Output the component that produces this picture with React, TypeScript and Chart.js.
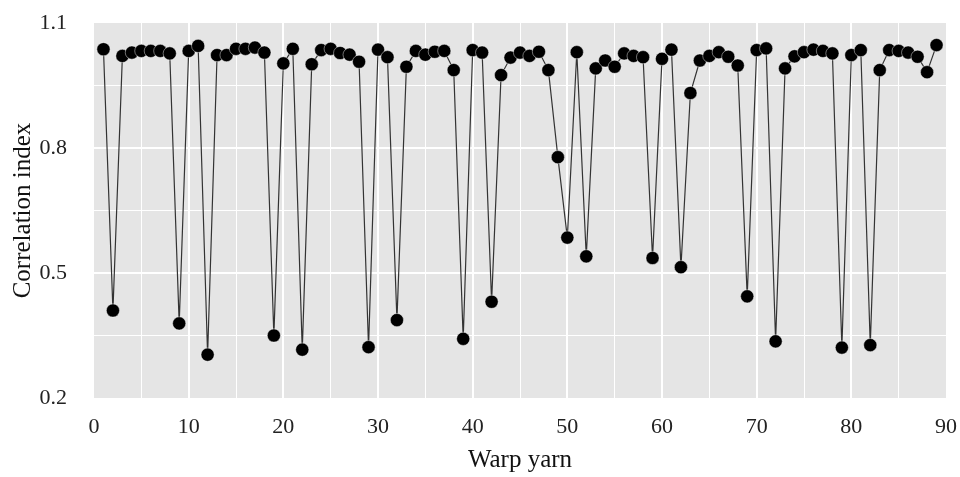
import React, { useEffect, useRef } from "react";
import { Chart, registerables } from "chart.js";

Chart.register(...registerables);

// Warp yarn index (x)
const warpYarn = [
  1, 2, 3, 4, 5, 6, 7, 8, 9, 10,
  11, 12, 13, 14, 15, 16, 17, 18, 19, 20,
  21, 22, 23, 24, 25, 26, 27, 28, 29, 30,
  31, 32, 33, 34, 35, 36, 37, 38, 39, 40,
  41, 42, 43, 44, 45, 46, 47, 48, 49, 50,
  51, 52, 53, 54, 55, 56, 57, 58, 59, 60,
  61, 62, 63, 64, 65, 66, 67, 68, 69, 70,
  71, 72, 73, 74, 75, 76, 77, 78, 79, 80,
  81, 82, 83, 84, 85, 86, 87, 88, 89,
];

// Correlation index (y)
const correlationIndex = [
  1.037, 0.410, 1.021, 1.029, 1.033, 1.033, 1.033, 1.027, 0.379, 1.033,
  1.045, 0.304, 1.023, 1.023, 1.038, 1.038, 1.041, 1.029, 0.350, 1.003,
  1.038, 0.316, 1.001, 1.035, 1.038, 1.028, 1.024, 1.007, 0.322, 1.036,
  1.018, 0.387, 0.995, 1.033, 1.024, 1.031, 1.033, 0.987, 0.342, 1.035,
  1.029, 0.431, 0.975, 1.017, 1.029, 1.021, 1.031, 0.987, 0.778, 0.585,
  1.030, 0.540, 0.991, 1.010, 0.995, 1.027, 1.021, 1.018, 0.536, 1.014,
  1.036, 0.514, 0.932, 1.010, 1.021, 1.030, 1.019, 0.998, 0.444, 1.035,
  1.039, 0.336, 0.991, 1.020, 1.030, 1.036, 1.033, 1.027, 0.321, 1.023,
  1.035, 0.327, 0.987, 1.035, 1.033, 1.029, 1.019, 0.982, 1.047,
];

// Axis ticks
const xGridValues = [0, 5, 10, 15, 20, 25, 30, 35, 40, 45, 50, 55, 60, 65, 70, 75, 80, 85, 90];
const xLabelValues = [0, 10, 20, 30, 40, 50, 60, 70, 80, 90];
const yGridValues = [0.2, 0.35, 0.5, 0.65, 0.8, 0.95, 1.1];
const yLabelValues = [0.2, 0.5, 0.8, 1.1];

const X_MIN = 0;
const X_MAX = 90;
const Y_MIN = 0.2;
const Y_MAX = 1.1;

const FONT = '"Liberation Serif", "Times New Roman", Times, serif';

const isLabel = (list: number[], v: number) => list.some((l) => Math.abs(l - v) < 1e-6);

const panelBackground = {
  id: "panelBackground",
  beforeDraw(chart: any) {
    const { ctx, chartArea } = chart;
    if (!chartArea) return;
    ctx.save();
    ctx.fillStyle = "#e5e5e5";
    ctx.fillRect(chartArea.left, chartArea.top, chartArea.right - chartArea.left, chartArea.bottom - chartArea.top);
    ctx.restore();
  },
};

export default function App() {
  const canvasRef = useRef<HTMLCanvasElement | null>(null);

  useEffect(() => {
    if (!canvasRef.current) return;
    const points = warpYarn.map((x, i) => ({ x, y: correlationIndex[i] }));

    const gridColor = (min: number, max: number) => (ctx: any) => {
      const v = ctx.tick ? ctx.tick.value : NaN;
      if (Math.abs(v - min) < 1e-6 || Math.abs(v - max) < 1e-6) return "rgba(0,0,0,0)";
      return "#ffffff";
    };
    const gridWidth = (labels: number[]) => (ctx: any) => {
      const v = ctx.tick ? ctx.tick.value : NaN;
      return isLabel(labels, v) ? 2 : 1;
    };

    const chart = new Chart(canvasRef.current, {
      type: "line",
      data: {
        datasets: [
          {
            data: points,
            borderColor: "#333333",
            borderWidth: 1.2,
            pointRadius: 6.6,
            pointHoverRadius: 6.6,
            pointBackgroundColor: "#000000",
            pointBorderColor: "rgba(255,255,255,0.55)",
            pointBorderWidth: 0.8,
            tension: 0,
            fill: false,
          },
        ],
      },
      options: {
        responsive: false,
        devicePixelRatio: 1,
        animation: false,
        layout: { autoPadding: false, padding: { top: 23, right: 14, bottom: 0, left: 0 } },
        plugins: {
          legend: { display: false },
          tooltip: { enabled: false },
        },
        scales: {
          x: {
            type: "linear",
            min: X_MIN,
            max: X_MAX,
            afterBuildTicks: (axis: any) => {
              axis.ticks = xGridValues.map((v) => ({ value: v }));
            },
            afterFit: (axis: any) => {
              axis.height = 79;
              axis.paddingLeft = 0;
              axis.paddingRight = 0;
              axis.paddingTop = 0;
              axis.paddingBottom = 0;
            },
            border: { display: false },
            grid: {
              drawTicks: false,
              color: gridColor(X_MIN, X_MAX),
              lineWidth: gridWidth(xLabelValues),
            },
            ticks: {
              autoSkip: false,
              maxRotation: 0,
              padding: 16,
              color: "#222222",
              font: { family: FONT, size: 22 },
              callback: (v: any) => (isLabel(xLabelValues, Number(v)) ? String(Math.round(Number(v))) : ""),
            },
            title: {
              display: true,
              text: "Warp yarn",
              color: "#111111",
              font: { family: FONT, size: 25 },
              padding: { top: 0, bottom: 1.5 },
            },
          },
          y: {
            type: "linear",
            min: Y_MIN,
            max: Y_MAX,
            afterBuildTicks: (axis: any) => {
              axis.ticks = yGridValues.map((v) => ({ value: v }));
            },
            afterFit: (axis: any) => {
              axis.width = 94;
              axis.paddingLeft = 0;
              axis.paddingRight = 0;
              axis.paddingTop = 0;
              axis.paddingBottom = 0;
            },
            border: { display: false },
            grid: {
              drawTicks: false,
              color: gridColor(Y_MIN, Y_MAX),
              lineWidth: gridWidth(yLabelValues),
            },
            ticks: {
              autoSkip: false,
              padding: 27,
              color: "#222222",
              font: { family: FONT, size: 22 },
              callback: (v: any) => (isLabel(yLabelValues, Number(v)) ? Number(v).toFixed(1) : ""),
            },
            title: {
              display: true,
              text: "Correlation index",
              color: "#111111",
              font: { family: FONT, size: 25 },
              padding: { top: 8.5, bottom: 0 },
            },
          },
        },
      },
      plugins: [panelBackground],
    });

    return () => chart.destroy();
  }, []);

  return (
    <div style={{ position: "absolute", left: 0, top: 0, width: 960, height: 477, background: "#ffffff" }}>
      <canvas ref={canvasRef} width={960} height={477} style={{ display: "block" }} />
    </div>
  );
}
